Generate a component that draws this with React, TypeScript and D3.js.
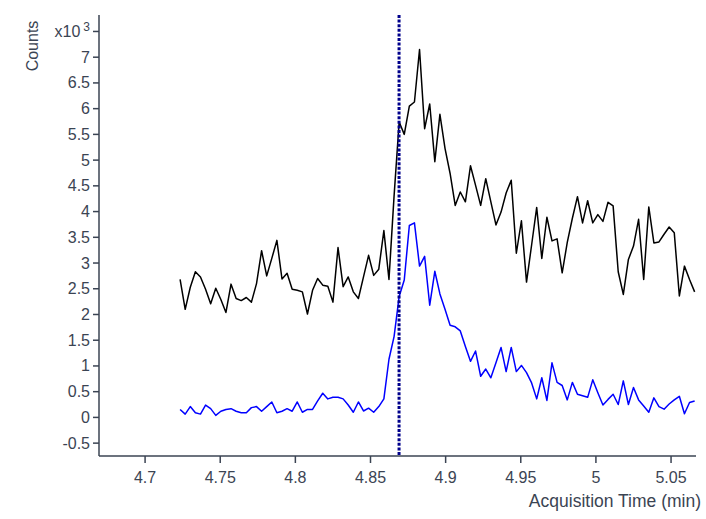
import React from "react";
import * as d3 from "d3";

// Acquisition timeline: first scan time and scan interval (min)
const startTime = 4.7233;
const scanInterval = 0.00339;

// Total ion trace (x10^3 counts)
const ticCounts = [
  2.68, 2.1, 2.53, 2.83, 2.73, 2.49, 2.21, 2.51, 2.29, 2.04,
  2.59, 2.31, 2.27, 2.33, 2.24, 2.6, 3.24, 2.75, 3.09, 3.44,
  2.69, 2.8, 2.49, 2.47, 2.44, 2.01, 2.47, 2.7, 2.57, 2.55,
  2.24, 3.3, 2.54, 2.73, 2.44, 2.31, 2.73, 3.15, 2.76, 2.88,
  3.63, 2.68, 4.3, 5.74, 5.5, 6.05, 6.13, 7.15, 5.61, 6.09,
  4.97, 5.89, 5.23, 4.74, 4.12, 4.38, 4.19, 4.89, 4.51, 4.12,
  4.64, 4.19, 3.74, 3.99, 4.36, 4.61, 3.19, 3.82, 2.63, 3.35,
  4.08, 3.09, 3.89, 3.43, 3.47, 2.81, 3.4, 3.87, 4.29, 3.78,
  4.21, 3.78, 3.94, 3.81, 4.18, 4.11, 2.83, 2.39, 3.07, 3.33,
  3.85, 2.68, 4.09, 3.39, 3.41, 3.56, 3.7, 3.59, 2.36, 2.94,
  2.68, 2.44,
];

// Extracted ion trace (x10^3 counts)
const eicCounts = [
  0.155, 0.064, 0.21, 0.09, 0.064, 0.24, 0.17, 0.04, 0.12, 0.155,
  0.17, 0.12, 0.09, 0.09, 0.19, 0.21, 0.12, 0.21, 0.3, 0.09,
  0.12, 0.17, 0.12, 0.3, 0.1, 0.155, 0.155, 0.32, 0.47, 0.36,
  0.39, 0.39, 0.36, 0.24, 0.1, 0.3, 0.125, 0.18, 0.1, 0.21,
  0.36, 1.13, 1.57, 2.35, 2.67, 3.73, 3.78, 2.94, 3.13, 2.18,
  2.84, 2.4, 2.1, 1.79, 1.76, 1.68, 1.38, 1.09, 1.29, 0.8,
  0.94, 0.77, 1.06, 1.36, 0.89, 1.36, 0.89, 1.01, 0.87, 0.67,
  0.36, 0.77, 0.33, 1.06, 0.68, 0.62, 0.34, 0.68, 0.45, 0.42,
  0.39, 0.73, 0.48, 0.24, 0.35, 0.45, 0.25, 0.71, 0.25, 0.58,
  0.34, 0.22, 0.1, 0.38, 0.21, 0.16, 0.26, 0.34, 0.41, 0.07,
  0.29, 0.32,
];

// Retention-time marker (min)
const markerTime = 4.869;

// Axis ticks
const xTicks = [4.7, 4.75, 4.8, 4.85, 4.9, 4.95, 5, 5.05];
const yTicks = [-0.5, 0, 0.5, 1, 1.5, 2, 2.5, 3, 3.5, 4, 4.5, 5, 5.5, 6, 6.5, 7];
const yMultiplierTick = 7.5;

const xDomain: [number, number] = [4.67, 5.0666];
const yDomain: [number, number] = [-0.75, 7.82];

const W = 706;
const H = 519;
const plot = { left: 99, right: 696, top: 15, bottom: 456 };

const axisColor = "#3b4453";
const textColor = "#3b4453";
const font = "'Liberation Sans', Arial, Helvetica, sans-serif";

export default function App() {
  const x = d3.scaleLinear().domain(xDomain).range([plot.left + 1, plot.right]);
  const y = d3.scaleLinear().domain(yDomain).range([plot.bottom, plot.top]);

  const times = ticCounts.map((_, i) => startTime + i * scanInterval);

  const line = d3
    .line<number>()
    .x((_, i) => x(times[i]))
    .y((d) => y(d));

  const fmt = (v: number) => String(v);

  return (
    <svg
      width={W}
      height={H}
      style={{ position: "absolute", left: 0, top: 0, background: "#fff" }}
      fontFamily={font}
    >
      <defs>
        <clipPath id="plot-clip">
          <rect
            x={plot.left + 1}
            y={plot.top}
            width={plot.right - plot.left - 1}
            height={plot.bottom - plot.top}
          />
        </clipPath>
      </defs>

      <g clipPath="url(#plot-clip)">
        <path d={line(ticCounts) ?? ""} fill="none" stroke="#000" strokeWidth={1.5} strokeLinejoin="round" />
        <path d={line(eicCounts) ?? ""} fill="none" stroke="#0000ff" strokeWidth={1.5} strokeLinejoin="round" />
      </g>

      {/* retention marker */}
      <line
        x1={x(markerTime)}
        x2={x(markerTime)}
        y1={plot.top}
        y2={plot.bottom - 1}
        stroke="#00008b"
        strokeWidth={3}
        strokeDasharray="3,1.6"
      />

      {/* y axis */}
      <line x1={plot.left} x2={plot.left} y1={plot.top} y2={plot.bottom} stroke={axisColor} strokeWidth={1.5} />
      {yTicks.map((t) => (
        <g key={t}>
          <line x1={plot.left - 6} x2={plot.left} y1={y(t)} y2={y(t)} stroke={axisColor} strokeWidth={1.5} />
          <text
            x={plot.left - 9}
            y={y(t)}
            textAnchor="end"
            dominantBaseline="central"
            fontSize={16}
            fill={textColor}
          >
            {fmt(t)}
          </text>
        </g>
      ))}
      <line
        x1={plot.left - 6}
        x2={plot.left}
        y1={y(yMultiplierTick)}
        y2={y(yMultiplierTick)}
        stroke={axisColor}
        strokeWidth={1.5}
      />
      <text x={plot.left - 9} y={y(yMultiplierTick) + 6} textAnchor="end" fontSize={16} fill={textColor}>
        x10
        <tspan dx={3} dy={-6} fontSize={12}>3</tspan>
      </text>
      <text
        transform={`translate(38,${46}) rotate(-90)`}
        textAnchor="middle"
        fontSize={16}
        fill={textColor}
      >
        Counts
      </text>

      {/* x axis */}
      <line x1={plot.left} x2={plot.right} y1={plot.bottom} y2={plot.bottom} stroke={axisColor} strokeWidth={1.5} />
      {xTicks.map((t) => (
        <g key={t}>
          <line x1={x(t)} x2={x(t)} y1={plot.bottom} y2={plot.bottom + 7} stroke={axisColor} strokeWidth={1.5} />
          <text x={x(t)} y={483} textAnchor="middle" fontSize={16} fill={textColor}>
            {fmt(t)}
          </text>
        </g>
      ))}
      <text x={701} y={507} textAnchor="end" fontSize={17.5} fill={textColor}>
        Acquisition Time (min)
      </text>
    </svg>
  );
}
